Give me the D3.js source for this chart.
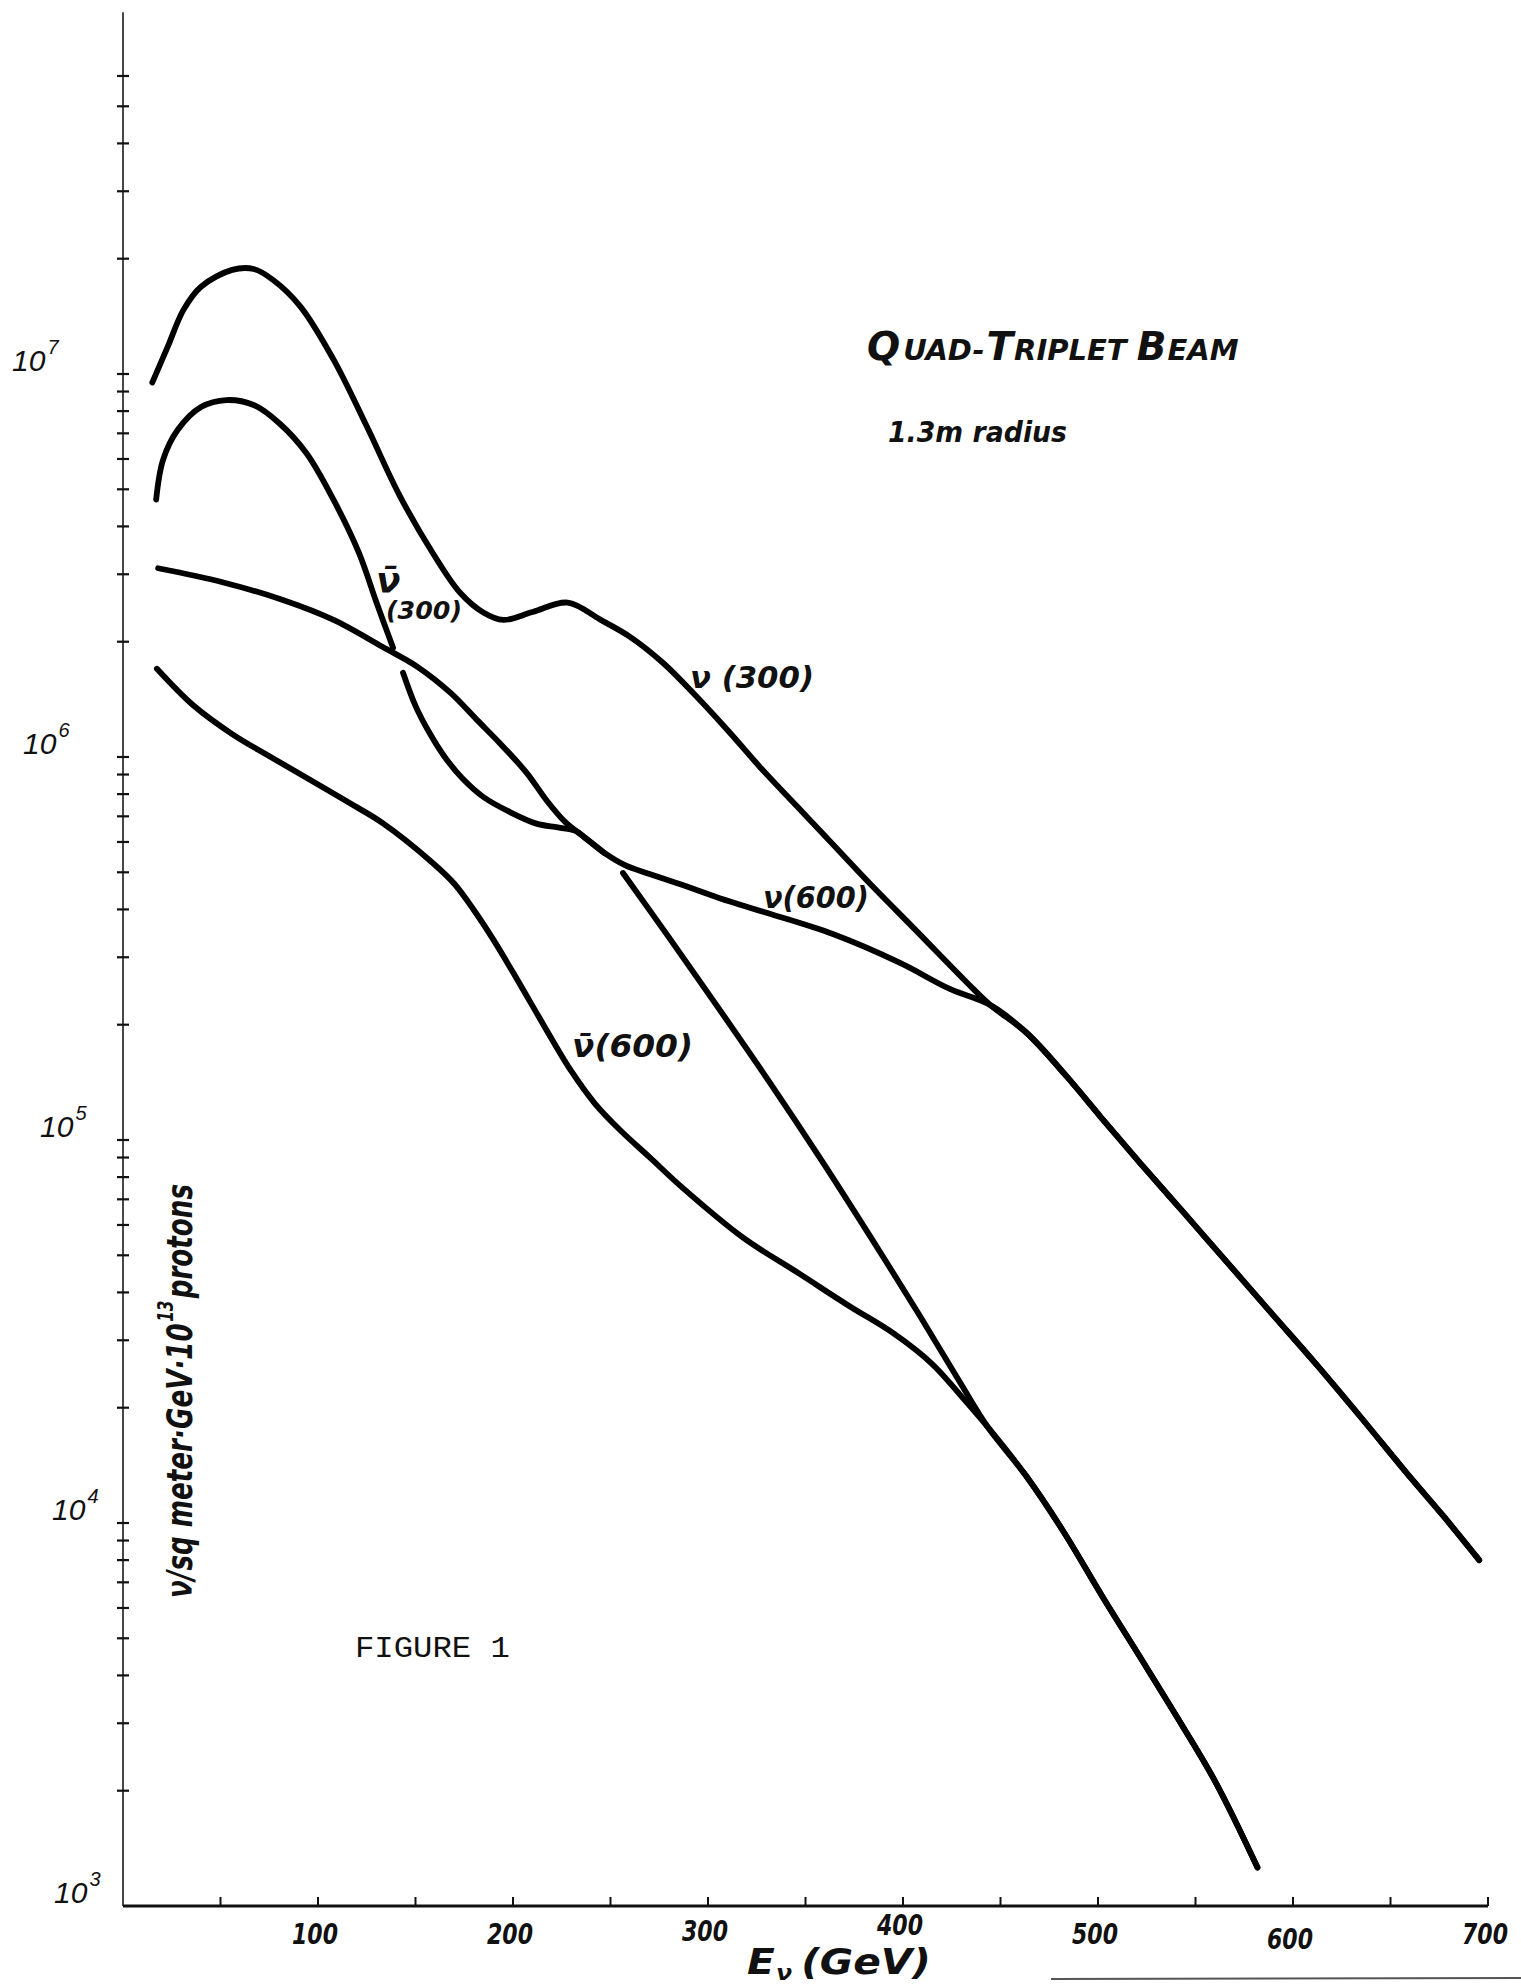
<!DOCTYPE html>
<html>
<head>
<meta charset="utf-8">
<script src="https://cdn.jsdelivr.net/npm/d3@7"></script>
<style>
  html, body { margin: 0; padding: 0; background: #fff; }
  svg { display: block; }
  .hand { font-family: "DejaVu Sans", sans-serif; font-weight: bold; font-style: italic; fill: #111; }
  .thin { font-family: "Liberation Sans", "DejaVu Sans", sans-serif; font-style: italic; fill: #111; }
  .typed { font-family: "Liberation Mono", "DejaVu Sans Mono", monospace; fill: #111; }
</style>
</head>
<body>
<svg id="chart" width="1521" height="1986"></svg>
<script>
// Neutrino flux per GeV for the quad-triplet beam (1.3 m radius), log scale.
// Energies in GeV, fluxes in ν / m² · GeV · 10¹³ protons.

// ν, 300 GeV setting (peak, dip, shoulder, then the common ν tail)
const nu300E = [15, 23, 31, 40, 56, 67, 77, 91, 108, 125, 142, 159, 173, 185, 195, 210, 228, 245, 260, 277, 294, 311, 328, 346, 364, 382, 407, 433];
const nu300F = [9.5e6, 1.18e7, 1.47e7, 1.69e7, 1.87e7, 1.88e7, 1.76e7, 1.50e7, 1.09e7, 7.3e6, 4.8e6, 3.4e6, 2.68e6, 2.38e6, 2.28e6, 2.39e6, 2.53e6, 2.28e6, 2.06e6, 1.76e6, 1.44e6, 1.16e6, 9.25e5, 7.4e5, 5.92e5, 4.73e5, 3.51e5, 2.57e5];

// ν, 600 GeV setting
const nu600E = [18, 51, 82, 108, 133, 151, 168, 181.5, 193, 207, 217, 226.7, 237, 247, 257.4, 270, 287, 306, 330, 364, 398.5, 424];
const nu600F = [3.11e6, 2.86e6, 2.57e6, 2.28e6, 1.94e6, 1.72e6, 1.47e6, 1.25e6, 1.09e6, 9.09e5, 7.73e5, 6.77e5, 6.15e5, 5.61e5, 5.22e5, 4.95e5, 4.63e5, 4.28e5, 3.92e5, 3.45e5, 2.9e5, 2.48e5];

// high-energy part shared by both ν settings
const nuTailE = [444.8, 463.6, 483.7, 501.3, 521.4, 544.2, 566.9, 589.6, 612.4, 635.1, 657.8, 677.3, 695.5];
const nuTailF = [2.25e5, 1.90e5, 1.47e5, 1.15e5, 8.73e4, 6.44e4, 4.75e4, 3.50e4, 2.58e4, 1.88e4, 1.36e4, 1.04e4, 8.0e3];

// ν̄, 300 GeV setting — null marks a pen lift where it crosses ν(600)
const nuBar300E = [17, 20.5, 28, 40, 53, 67, 80, 94, 108, 121, 130, 138.5, null,
                   143.6, 150, 157, 165, 174, 185, 198, 212, 223, 232, 237, 247, null,
                   256.4, 280.5, 306.2, 331.8, 357.4, 383.1, 408.7, 429.2];
const nuBar300F = [4.7e6, 5.96e6, 7.14e6, 8.2e6, 8.55e6, 8.3e6, 7.45e6, 6.22e6, 4.69e6, 3.41e6, 2.53e6, 1.93e6, null,
                   1.66e6, 1.36e6, 1.16e6, 1.0e6, 8.8e5, 7.85e5, 7.2e5, 6.7e5, 6.55e5, 6.42e5, 6.15e5, 5.61e5, null,
                   4.98e5, 3.35e5, 2.18e5, 1.41e5, 8.98e4, 5.61e4, 3.47e4, 2.33e4];

// ν̄, 600 GeV setting
const nuBar600E = [17.4, 36, 56, 74, 91, 116, 133, 159, 170, 180, 190, 200, 210, 220, 230, 242, 255, 270, 287, 318, 347, 373, 395, 415, 430];
const nuBar600F = [1.7e6, 1.365e6, 1.148e6, 1.012e6, 9.02e5, 7.59e5, 6.73e5, 5.28e5, 4.66e5, 3.98e5, 3.33e5, 2.74e5, 2.24e5, 1.83e5, 1.51e5, 1.245e5, 1.06e5, 9.02e4, 7.5e4, 5.56e4, 4.47e4, 3.67e4, 3.13e4, 2.6e4, 2.14e4];

// high-energy part shared by both ν̄ settings
const nuBarTailE = [443.5, 463, 482.5, 502, 521.4, 540.9, 560.4, 581.8];
const nuBarTailF = [1.78e4, 1.33e4, 9.46e3, 6.46e3, 4.48e3, 3.09e3, 2.10e3, 1.26e3];

// axis ticks and labels
const xTickValues = d3.range(50, 701, 50);
const xLabelValues = [100, 200, 300, 400, 500, 600, 700];
const xLabels = ["100", "200", "300", "400", "500", "600", "700"];
const decadeExponents = [3, 4, 5, 6, 7];
const yAxisTop = 8.8e7;
const yTickMax = 6e7;

const W = 1521, H = 1986;
const svg = d3.select("#chart");
svg.append("rect").attr("width", W).attr("height", H).attr("fill", "#fff");

const x = d3.scaleLinear().domain([0, 700]).range([123, 1488]);
const y = d3.scaleLog().domain([1e3, 1e8]).range([1906, -9]);

const pts = (E, F) => E.map((e, i) => (e == null ? null : { e, f: F[i] }));

const line = d3.line()
  .defined(d => d != null)
  .x(d => x(d.e))
  .y(d => y(d.f))
  .curve(d3.curveCatmullRom.alpha(0.5));

const series = [
  pts(nu300E, nu300F).concat(pts(nuTailE, nuTailF)),
  pts(nu600E, nu600F).concat(pts(nuTailE, nuTailF)),
  pts(nuBar300E, nuBar300F).concat(pts(nuBarTailE, nuBarTailF)),
  pts(nuBar600E, nuBar600F).concat(pts(nuBarTailE, nuBarTailF))
];

// ---- axes ----
const gAx = svg.append("g");
gAx.append("line")
  .attr("x1", x(0)).attr("x2", x(0))
  .attr("y1", y(yAxisTop)).attr("y2", y(1e3))
  .attr("stroke", "#1a1a1a").attr("stroke-width", 1.6);

gAx.selectAll("line.ytick")
  .data(y.ticks().filter(v => v <= yTickMax && v > 1e3))
  .join("line").attr("class", "ytick")
  .attr("x1", x(0) - 6).attr("x2", x(0) + 6)
  .attr("y1", d => y(d)).attr("y2", d => y(d))
  .attr("stroke", "#111").attr("stroke-width", 2.2);

gAx.append("line")
  .attr("x1", x(0)).attr("x2", x(700))
  .attr("y1", y(1e3)).attr("y2", y(1e3))
  .attr("stroke", "#111").attr("stroke-width", 2.8);

gAx.selectAll("line.xtick")
  .data(xTickValues)
  .join("line").attr("class", "xtick")
  .attr("x1", d => x(d)).attr("x2", d => x(d))
  .attr("y1", y(1e3)).attr("y2", y(1e3) - 9)
  .attr("stroke", "#111").attr("stroke-width", 2);

// x tick labels, lettered by hand so each sits a little differently
const xLabelDy = [0, 0, -3, -9, 0, 5, 0];
gAx.selectAll("text.xlab")
  .data(xLabelValues)
  .join("text").attr("class", "xlab hand")
  .attr("x", d => x(d) - 3)
  .attr("y", (d, i) => y(1e3) + 38 + xLabelDy[i])
  .attr("text-anchor", "middle")
  .attr("font-size", 28)
  .attr("textLength", 46).attr("lengthAdjust", "spacingAndGlyphs")
  .text((d, i) => xLabels[i]);

// decade labels 10^n, placed a little left of the axis
const decadeLeft = { 3: 54, 4: 52, 5: 40, 6: 23, 7: 12 };
decadeExponents.forEach(n => {
  const t = gAx.append("text").attr("class", "thin")
    .attr("x", decadeLeft[n]).attr("y", y(Math.pow(10, n)) - 3)
    .attr("font-size", 30);
  t.append("tspan").text("10");
  t.append("tspan").attr("font-size", 20).attr("dx", 2).attr("dy", -17).text(String(n));
});

// x axis title: E_ν (GeV)
const xt = svg.append("text").attr("class", "hand")
  .attr("x", 747).attr("y", 1974).attr("font-size", 36);
xt.append("tspan").text("E");
xt.append("tspan").attr("font-size", 21).attr("dx", 1).attr("dy", 6).text("ν");
xt.append("tspan").attr("dy", -6).attr("dx", 8).text("(GeV)");
xt.attr("textLength", 184).attr("lengthAdjust", "spacingAndGlyphs");

// y axis title
const yt = svg.append("text").attr("class", "hand")
  .attr("transform", "translate(192,1598) rotate(-90)")
  .attr("font-size", 36);
yt.append("tspan").text("ν/sq meter·GeV·10");
yt.append("tspan").attr("font-size", 21).attr("dx", 2).attr("dy", -19).text("13");
yt.append("tspan").attr("dx", 3).attr("dy", 19).text("protons");
yt.attr("textLength", 414).attr("lengthAdjust", "spacingAndGlyphs");

// ---- curves ----
svg.append("g").selectAll("path")
  .data(series)
  .join("path")
  .attr("d", line)
  .attr("fill", "none")
  .attr("stroke", "#000")
  .attr("stroke-width", 5.8)
  .attr("stroke-linecap", "round")
  .attr("stroke-linejoin", "round");

// ---- curve labels ----
svg.append("text").attr("class", "hand")
  .attr("x", 690).attr("y", 688).attr("font-size", 30)
  .attr("textLength", 124).attr("lengthAdjust", "spacingAndGlyphs")
  .text("ν (300)");

svg.append("text").attr("class", "hand")
  .attr("x", 763).attr("y", 908).attr("font-size", 30)
  .attr("textLength", 106).attr("lengthAdjust", "spacingAndGlyphs")
  .text("ν(600)");

svg.append("text").attr("class", "hand")
  .attr("x", 572).attr("y", 1057).attr("font-size", 32)
  .attr("textLength", 121).attr("lengthAdjust", "spacingAndGlyphs")
  .text("ν\u0304(600)");

svg.append("text").attr("class", "hand")
  .attr("x", 376).attr("y", 593).attr("font-size", 36)
  .text("ν\u0304");
svg.append("text").attr("class", "hand")
  .attr("x", 386).attr("y", 619).attr("font-size", 24)
  .attr("textLength", 76).attr("lengthAdjust", "spacingAndGlyphs")
  .text("(300)");

// ---- title block (hand-lettered small caps) ----
const title = svg.append("text").attr("class", "hand")
  .attr("x", 867).attr("y", 360);
[["Q", 39, 0], ["UAD-", 29, 3], ["T", 39, 2], ["RIPLET ", 29, 1], ["B", 39, 0], ["EAM", 29, 1]]
  .forEach(([s, fs, dx]) => title.append("tspan").attr("font-size", fs).attr("dx", dx).text(s));

svg.append("text").attr("class", "hand")
  .attr("x", 888).attr("y", 442).attr("font-size", 29)
  .attr("textLength", 179).attr("lengthAdjust", "spacingAndGlyphs")
  .text("1.3m radius");

svg.append("text").attr("class", "typed")
  .attr("x", 355).attr("y", 1657).attr("font-size", 30)
  .attr("textLength", 155).attr("lengthAdjust", "spacingAndGlyphs")
  .text("FIGURE 1");

// page edge under the axis title
svg.append("line")
  .attr("x1", 1051).attr("x2", W).attr("y1", 1979).attr("y2", 1978)
  .attr("stroke", "#555").attr("stroke-width", 2);
</script>
</body>
</html>
